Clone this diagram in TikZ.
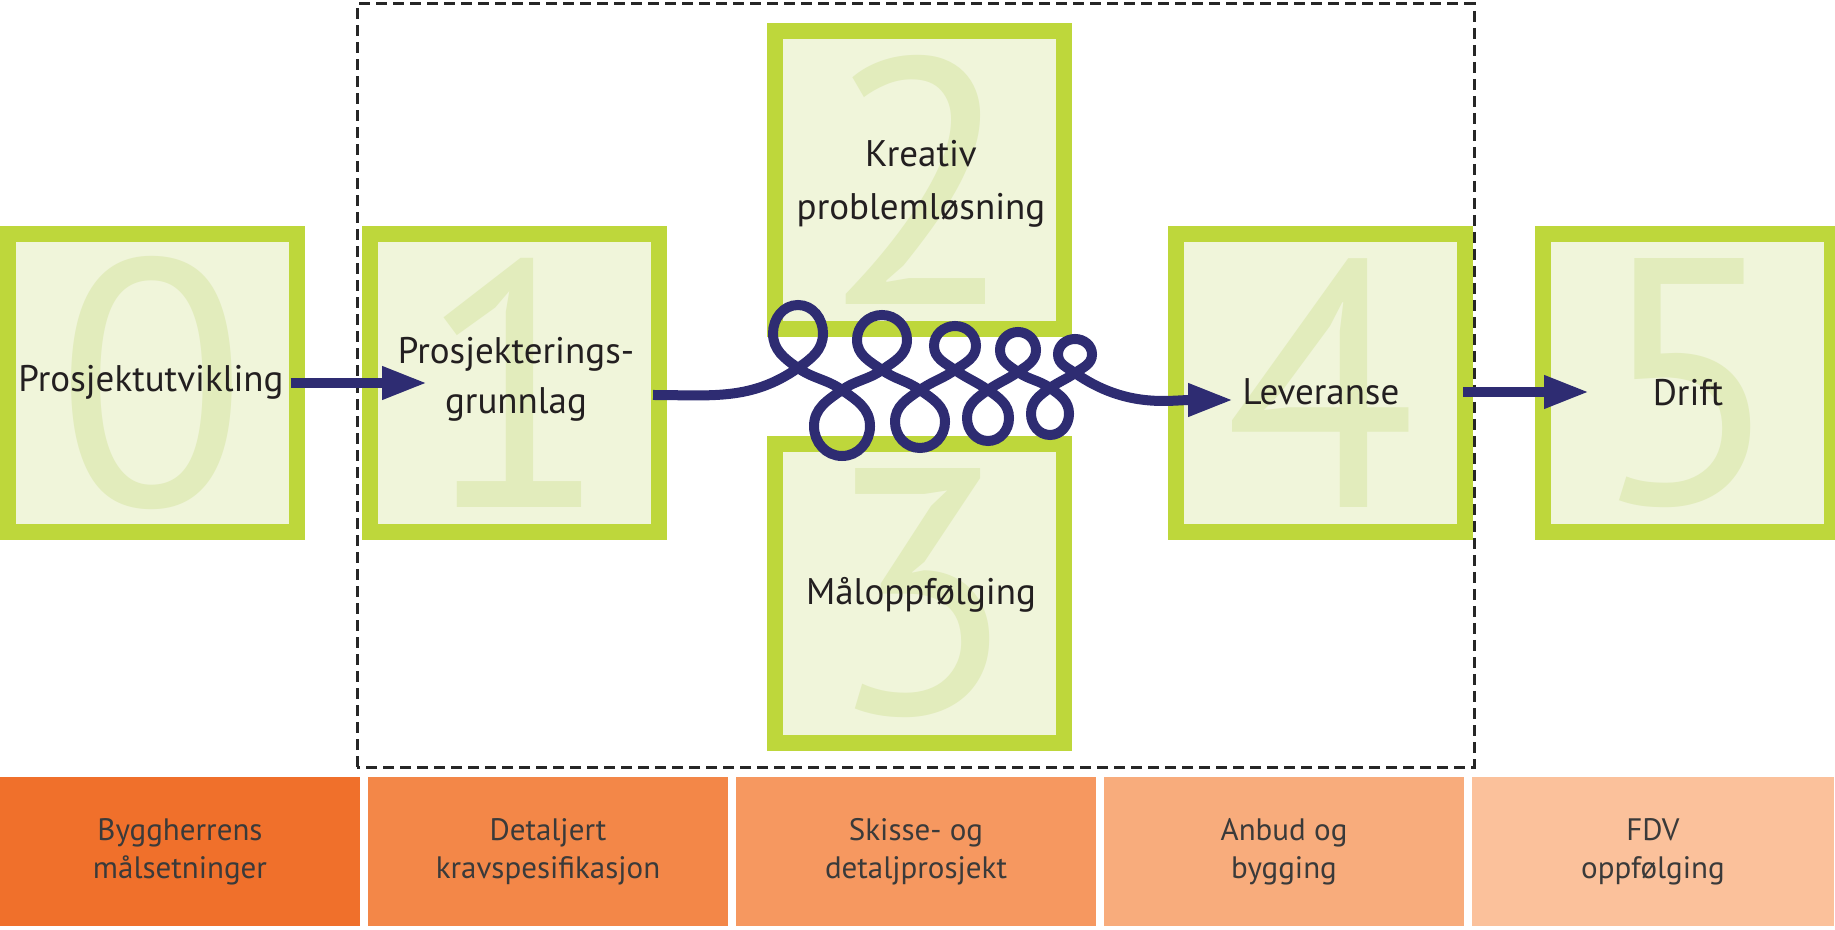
\documentclass[tikz,border=0pt]{standalone}
\usepackage{fontspec}
\setmainfont{PT Sans}
\usetikzlibrary{arrows.meta,positioning}

\definecolor{stagegreen}{RGB}{190,215,59}
\definecolor{stagefill}{RGB}{240,245,218}
\definecolor{stagedigit}{RGB}{226,236,188}
\definecolor{flowblue}{RGB}{46,44,114}
\definecolor{labeltext}{RGB}{35,31,32}
\definecolor{phasetext}{RGB}{58,58,58}
\definecolor{framegray}{RGB}{38,38,38}
\definecolor{phaseA}{RGB}{240,112,43}
\definecolor{phaseB}{RGB}{243,135,72}
\definecolor{phaseC}{RGB}{246,152,96}
\definecolor{phaseD}{RGB}{248,172,124}
\definecolor{phaseE}{RGB}{251,193,155}

\begin{document}
\begin{tikzpicture}[x=1pt, y=1pt,
  stage/.style={draw=stagegreen, fill=stagefill, line width=16pt,
    minimum width=289pt, minimum height=298pt, inner sep=0pt,
    text=stagedigit, font=\fontsize{350}{350}\selectfont},
  stagelabel/.style={text=labeltext, align=center, inner sep=0pt,
    font=\fontsize{37}{50}\selectfont},
  phase/.style={minimum width=360pt, minimum height=149pt, inner sep=0pt,
    outer sep=0pt, align=center, text=phasetext,
    font=\fontsize{31}{38}\selectfont},
  flow/.style={draw=flowblue, line width=10pt,
    -{Triangle[length=45pt,width=31pt]}},
  dashframe/.style={draw=framegray, line width=3pt,
    dash pattern=on 11pt off 6pt}]

\useasboundingbox (0,0) rectangle (1835,929);

% Stage boxes with big digits
\node[stage] (s0) at (152,546) {0};
\node[stage] (s1) at (514.5,546) {1};
\node[stage] (s2) at (919.5,749) {2};
\node[stage] (s3) at (919.5,335.5) {3};
\node[stage] (s4) at (1320.5,546) {4};
\node[stage] (s5) at (1687.5,546) {5};

% Stage labels
\node[stagelabel, anchor=base] (l0) at (151,537) {Prosjektutvikling};
\node[stagelabel] (l1) at (516,550) {Prosjekterings-\\grunnlag};
\node[stagelabel, font=\fontsize{37}{53}\selectfont] (l2) at (921,745)
  {Kreativ\\problemløsning};
\node[stagelabel, anchor=base] (l3) at (921,324) {Måloppfølging};
\node[stagelabel, anchor=base] (l4) at (1321,524) {Leveranse};
\node[stagelabel, anchor=base] (l5) at (1688,523) {Drift};

% Dashed frame round the design stages
\draw[dashframe] (357,162) rectangle (1474,925);

% Straight arrows
\draw[flow] ([xshift=-14pt]s0.east) -- ([xshift=65pt]s1.west);
\draw[flow] ([xshift=-10pt,yshift=-9pt]s4.east) -- ([xshift=54pt,yshift=-9pt]s5.west);

% Looping arrow through stages 2 and 3
\draw[flow] ([xshift=-14pt,yshift=-12pt]s1.east)
  foreach \o/\cx/\cy/\w/\h/\s in {0/798/561/25/63/1, -35/842/539/28/-66/-1,
      35/882/559/25/55/1, -35/920/539/25/-58/-1, 35/955/559/21/44/1,
      -35/988/539/21/-51/-1, 35/1018/557/18/40/1, -35/1050/541/19/-47/-1,
      35/1075/556/17/34/1}
  {
    to[out=\o, in=180+35*\s] (\cx,\cy)
    to[out=35*\s, in=-90*\s] (\cx+\w,\cy+0.55*\h)
    to[out=90*\s, in=0] (\cx,\cy+\h)
    to[out=180, in=90*\s] (\cx-\w,\cy+0.55*\h)
    to[out=-90*\s, in=180-35*\s] (\cx,\cy)
  }
  to[out=-35, in=180] ([xshift=65pt,yshift=-17pt]s4.west);

% Phase bars
\node[phase, fill=phaseA] (p1) at (180,77.5) {Byggherrens\\målsetninger};
\node[phase, fill=phaseB, right=8pt of p1] (p2) {Detaljert\\kravspesifikasjon};
\node[phase, fill=phaseC, right=8pt of p2] (p3) {Skisse- og\\detaljprosjekt};
\node[phase, fill=phaseD, right=8pt of p3] (p4) {Anbud og\\bygging};
\node[phase, fill=phaseE, right=8pt of p4, minimum width=362pt] (p5) {FDV\\oppfølging};

\end{tikzpicture}
\end{document}
